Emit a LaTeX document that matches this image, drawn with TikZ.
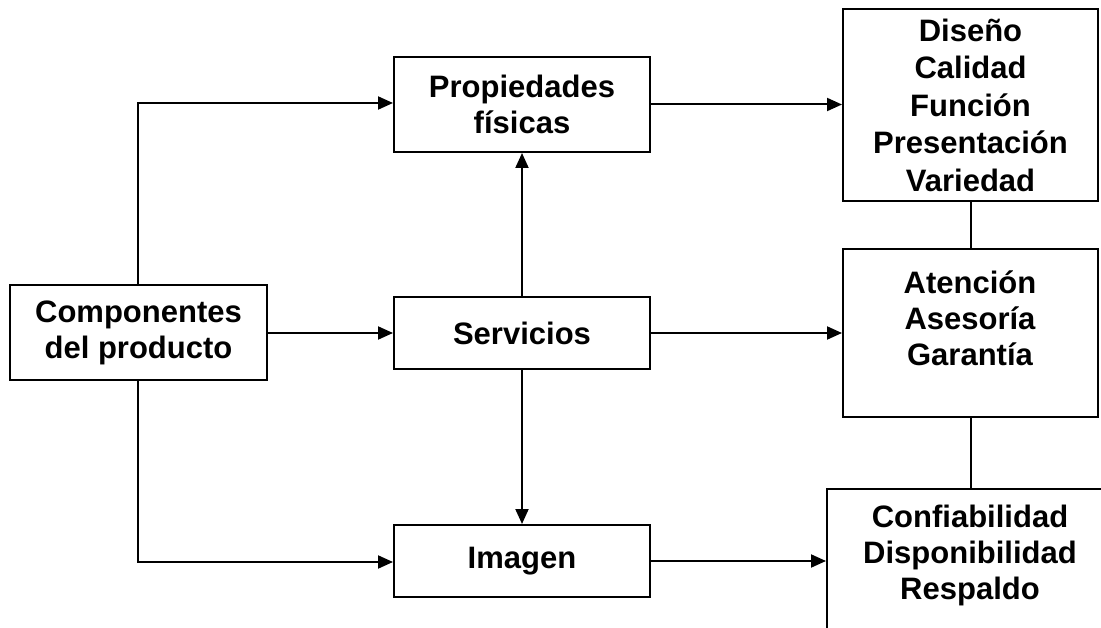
\documentclass[tikz,border=0pt]{standalone}
\usepackage{fontspec}
\setmainfont{Liberation Sans}
\usetikzlibrary{arrows.meta}
\begin{document}
\begin{tikzpicture}[x=1pt,y=-1pt,
  box/.style={draw, line width=2pt, rectangle, inner sep=0pt, align=center,
    font=\fontsize{31}{36}\selectfont\bfseries},
  txt/.style={inner sep=0pt, align=center, font=\fontsize{31}{36}\selectfont\bfseries},
  link/.style={line width=2pt},
  flow/.style={line width=2pt, -{Triangle[length=15pt,width=13pt]}}]
\useasboundingbox (0,0) rectangle (1101,628);
\clip (0,0) rectangle (1101,628);

% left and middle column
\node[box, minimum width=257pt, minimum height=95pt] (comp) at (138.5,332.5) {Componentes\\del producto};
\node[box, minimum width=256pt, minimum height=95pt] (prop) at (522,104.5) {Propiedades\\físicas};
\node[box, minimum width=256pt, minimum height=72pt] (serv) at (522,333) {Servicios};
\node[box, minimum width=256pt, minimum height=72pt] (imag) at (522,561) {Imagen};

% right column
\node[box, minimum width=255pt, minimum height=192pt, font=\fontsize{31}{37.5}\selectfont\bfseries]
  (topr) at (970.5,105) {Diseño\\Calidad\\Función\\Presentación\\Variedad};
\node[box, minimum width=255pt, minimum height=168pt] (midr) at (970.5,333) {};
\node[txt] (midt) at (970,318) {Atención\\Asesoría\\Garantía};
\node[box, minimum width=286pt, minimum height=160pt] (botr) at (970,569) {};
\node[txt] (bott) at (970,555) {Confiabilidad\\Disponibilidad\\Respaldo};

% flows out of the components box
\coordinate (up) at (138,103);
\coordinate (down) at (138,562);
\draw[flow] (comp.north -| up) -- (up) -- (prop.west |- up);
\draw[flow] (comp.south -| down) -- (down) -- (imag.west |- down);
\draw[flow] (comp.east |- serv.west) -- (serv.west);

% services feed the other two
\draw[flow] (serv.north) -- (prop.south);
\draw[flow] (serv.south) -- (imag.north);

% middle column to right column
\draw[flow] (prop.east) -- (topr.west |- prop.east);
\draw[flow] (serv.east) -- (midr.west |- serv.east);
\draw[flow] (imag.east) -- (botr.west |- imag.east);

% right column joins
\draw[link] (topr.south) -- (midr.north);
\draw[link] (midr.south) -- (midr.south |- botr.north);
\end{tikzpicture}
\end{document}
